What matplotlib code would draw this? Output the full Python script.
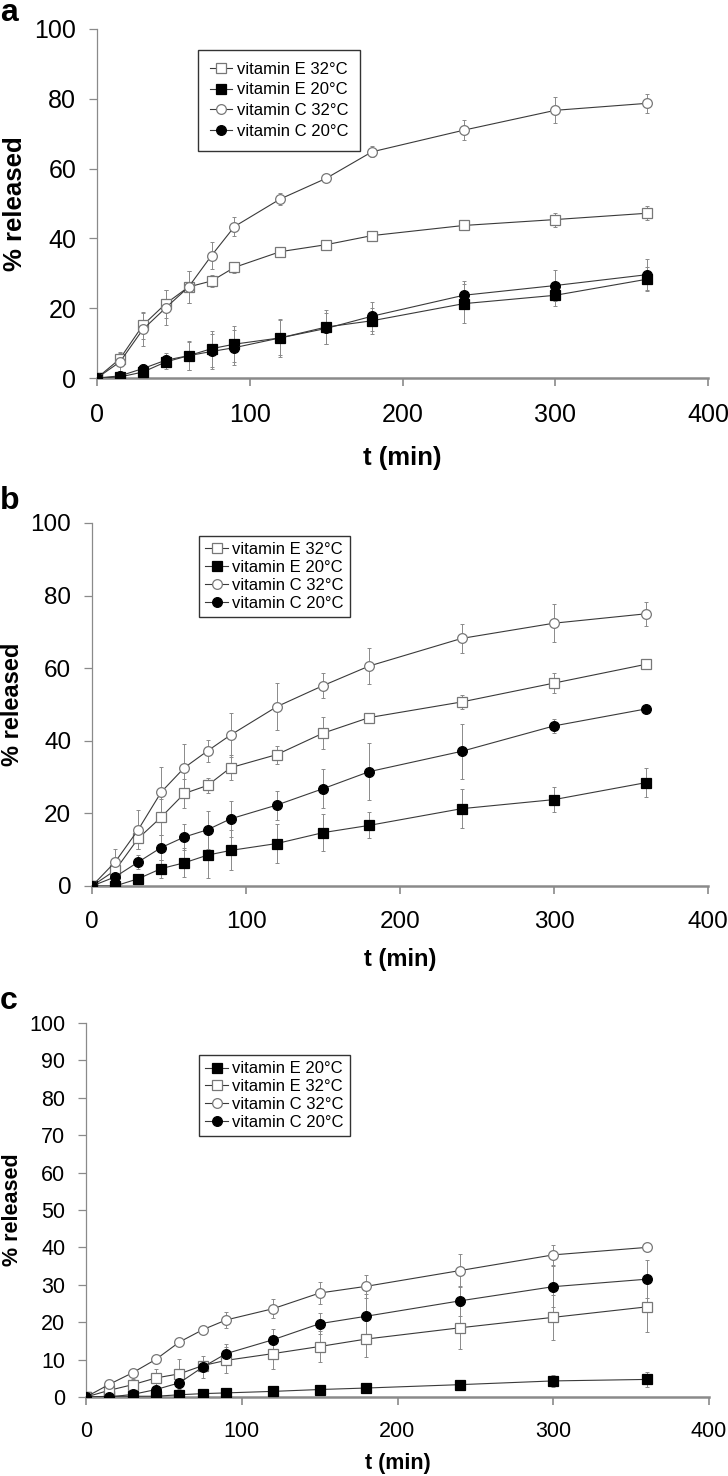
import numpy as np
import matplotlib.pyplot as plt
from matplotlib.transforms import blended_transform_factory

plt.rcParams["font.family"] = ["Liberation Sans", "DejaVu Sans"]

# sampling times (min)
t = [0, 15, 30, 45, 60, 75, 90, 120, 150, 180, 240, 300, 360]

# panel a
a_e32 = [0, 5.5, 15.1, 21.3, 26.1, 27.8, 31.7, 36.2, 38.2, 40.8, 43.7, 45.4, 47.2]
a_e32_err = [0, 2.0, 3.8, 4.0, 4.5, 1.6, 1.5, 1.0, 0.8, 0.8, 0.8, 2.0, 2.0]
a_e20 = [0, 0.3, 1.7, 4.6, 6.4, 8.4, 9.7, 11.5, 14.6, 16.4, 21.3, 23.7, 28.3]
a_e20_err = [0, 0.5, 1.0, 2.0, 4.2, 5.2, 5.2, 5.5, 5.0, 3.8, 5.5, 3.0, 3.5]
a_c32 = [0, 4.6, 13.9, 20.1, 26.1, 35.1, 43.4, 51.3, 57.2, 64.8, 71.0, 76.7, 78.7]
a_c32_err = [0, 2.5, 4.8, 5.0, 4.5, 4.0, 2.7, 1.8, 0.8, 1.6, 2.9, 3.7, 2.7]
a_c20 = [0, 0.6, 2.7, 5.1, 6.4, 7.6, 8.7, 11.5, 14.2, 17.7, 23.7, 26.5, 29.6]
a_c20_err = [0, 0.5, 1.2, 2.0, 4.0, 5.0, 5.0, 5.0, 4.5, 4.2, 4.0, 4.5, 4.5]

# panel b
b_e32 = [0, 4.3, 13.1, 19.0, 25.5, 27.7, 32.6, 36.2, 42.1, 46.4, 50.7, 55.9, 61.1]
b_e32_err = [0, 1.0, 3.0, 5.0, 4.0, 2.0, 3.5, 2.5, 4.4, 1.0, 2.0, 2.8, 1.0]
b_e20 = [0, 0, 2.0, 4.8, 6.4, 8.5, 9.8, 11.7, 14.7, 16.7, 21.3, 23.8, 28.5]
b_e20_err = [0, 0.5, 1.0, 2.5, 4.0, 6.3, 5.5, 5.3, 5.0, 3.6, 5.4, 3.4, 4.0]
b_c32 = [0, 6.6, 15.5, 25.9, 32.6, 37.2, 41.6, 49.4, 55.2, 60.6, 68.2, 72.4, 75.0]
b_c32_err = [0, 3.5, 5.4, 7.0, 6.5, 3.0, 6.0, 6.4, 3.5, 5.0, 3.9, 5.3, 3.3]
b_c20 = [0, 2.5, 6.6, 10.6, 13.5, 15.5, 18.5, 22.3, 26.8, 31.5, 37.1, 44.1, 48.8]
b_c20_err = [0, 1.0, 2.0, 3.5, 3.5, 5.2, 5.0, 4.0, 5.4, 7.9, 7.6, 2.0, 0.5]

# panel c
c_e20 = [0, 0.2, 0.2, 0.2, 0.6, 0.9, 1.1, 1.5, 2.0, 2.4, 3.3, 4.3, 4.7]
c_e20_err = [0, 0.2, 0.3, 0.3, 0.4, 0.4, 0.5, 0.6, 0.6, 0.7, 1.0, 1.5, 2.0]
c_e32 = [0, 1.8, 3.3, 5.1, 6.2, 8.4, 9.8, 11.6, 13.5, 15.5, 18.5, 21.3, 24.1]
c_e32_err = [0, 0.8, 1.5, 2.5, 4.0, 1.0, 3.5, 4.0, 4.2, 4.9, 5.7, 6.1, 6.7]
c_c32 = [0, 3.4, 6.5, 10.1, 14.7, 18.0, 20.6, 23.6, 27.8, 29.6, 33.8, 38.0, 40.0]
c_c32_err = [0, 0.5, 0.6, 0.8, 1.0, 0.5, 2.2, 2.6, 3.0, 3.0, 4.4, 2.6, 1.0]
c_c20 = [0, 0, 0.7, 2.0, 3.8, 8.0, 11.6, 15.3, 19.6, 21.6, 25.7, 29.5, 31.5]
c_c20_err = [0, 0.2, 0.5, 1.0, 1.5, 3.0, 2.6, 2.8, 2.8, 6.0, 4.0, 5.5, 5.1]

LINE = "#3a3a3a"
GRAY = "#8a8a8a"

styles = {
    "vitamin E 32°C": dict(marker="s", mfc="white", mec="#777777"),
    "vitamin E 20°C": dict(marker="s", mfc="black", mec="black"),
    "vitamin C 32°C": dict(marker="o", mfc="white", mec="#777777"),
    "vitamin C 20°C": dict(marker="o", mfc="black", mec="black"),
}

W, H = 728.0, 1476.0


def draw_panel(ax, series, letter, letter_y, yticks, fs_tick, fs_label,
               xpad, xlabelpad, ylabel_x, legend_box, lspace, bpad):
    for name, y, err in series:
        ax.errorbar(t, y, yerr=err, fmt="none", ecolor=GRAY, elinewidth=0.7,
                    capsize=1.5, capthick=0.7, zorder=2)
    for name, y, err in series:
        ax.plot(t, y, color=LINE, lw=0.8, ms=7, mew=0.9, label=name,
                zorder=3, **styles[name])

    ax.set_xlim(0, 400)
    ax.set_ylim(0, 100)
    ax.set_xticks([0, 100, 200, 300, 400])
    ax.set_yticks(yticks)
    for s in ["top", "right"]:
        ax.spines[s].set_visible(False)
    ax.spines["left"].set_color(GRAY)
    ax.spines["left"].set_linewidth(0.9)
    ax.spines["bottom"].set_color(GRAY)
    ax.spines["bottom"].set_linewidth(1.8)
    ax.tick_params(axis="x", direction="out", length=6, width=1.2, color=GRAY,
                   labelsize=fs_tick, pad=xpad)
    ax.tick_params(axis="y", direction="out", length=6, width=0.9, color=GRAY,
                   labelsize=fs_tick, pad=9)
    ax.set_xlabel("t (min)", fontsize=fs_label, fontweight="bold",
                  labelpad=xlabelpad)
    ax.set_ylabel("% released", fontsize=fs_label, fontweight="bold")
    # x in figure pixels, y at the middle of the axes
    trans = blended_transform_factory(ax.figure.transFigure, ax.transAxes)
    ax.yaxis.set_label_coords(ylabel_x / W, 0.5, transform=trans)

    leg = ax.legend(loc="upper left", bbox_to_anchor=legend_box,
                    bbox_transform=ax.figure.transFigure, fontsize=12,
                    frameon=True, fancybox=False, edgecolor="black",
                    handlelength=1.35, handletextpad=0.25, labelspacing=lspace,
                    borderpad=bpad, borderaxespad=0)
    leg.get_frame().set_linewidth(1.0)

    ax.figure.text(0.0, 1 - letter_y / H, letter, fontsize=23,
                   fontweight="bold", va="top", ha="left")


fig = plt.figure(figsize=(7.28, 14.76), dpi=100)

ax_a = fig.add_axes([97 / W, 1 - 378 / H, (708 - 97) / W, (378 - 29) / H])
ax_b = fig.add_axes([92 / W, 1 - 886 / H, (708 - 92) / W, (886 - 523) / H])
ax_c = fig.add_axes([86 / W, 1 - 1397 / H, (709 - 86) / W, (1397 - 1023) / H])

draw_panel(ax_a, [("vitamin E 32°C", a_e32, a_e32_err),
                  ("vitamin E 20°C", a_e20, a_e20_err),
                  ("vitamin C 32°C", a_c32, a_c32_err),
                  ("vitamin C 20°C", a_c20, a_c20_err)],
           "a", -2, [0, 20, 40, 60, 80, 100], 18, 18.5,
           12, 14, 27, (198 / W, 1 - 50 / H), 0.33, 0.72)

draw_panel(ax_b, [("vitamin E 32°C", b_e32, b_e32_err),
                  ("vitamin E 20°C", b_e20, b_e20_err),
                  ("vitamin C 32°C", b_c32, b_c32_err),
                  ("vitamin C 20°C", b_c20, b_c20_err)],
           "b", 486, [0, 20, 40, 60, 80, 100], 17.5, 17,
           12, 11, 24, (199 / W, 1 - 536 / H), 0.17, 0.38)

draw_panel(ax_c, [("vitamin E 20°C", c_e20, c_e20_err),
                  ("vitamin E 32°C", c_e32, c_e32_err),
                  ("vitamin C 32°C", c_c32, c_c32_err),
                  ("vitamin C 20°C", c_c20, c_c20_err)],
           "c", 986, list(range(0, 101, 10)), 15.5, 15.5,
           11, 8, 23, (199 / W, 1 - 1055 / H), 0.17, 0.38)

fig.savefig("out.png", dpi=100)
